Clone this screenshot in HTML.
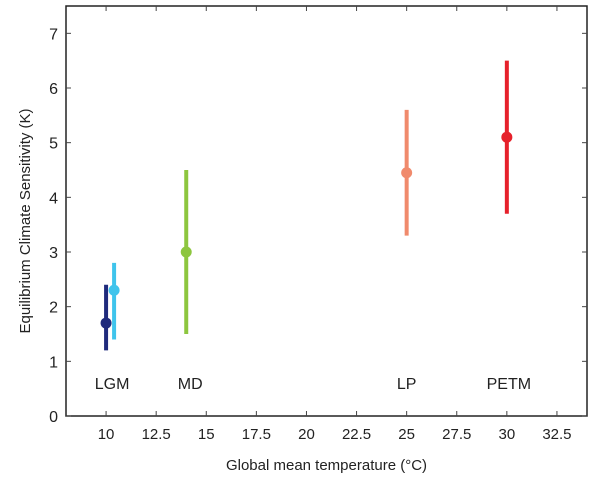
<!DOCTYPE html>
<html><head><meta charset="utf-8"><style>
body{margin:0;background:#fff;}
svg{display:block;font-family:"Liberation Sans",sans-serif;}
</style></head><body>
<svg id="chart" width="600" height="480" viewBox="0 0 600 480"></svg>
<script>
const periods=["LGM","LGM-b","MD","LP","PETM"];
const temps=[10,10.4,14,25,30];
const ecs=[1.7,2.3,3,4.45,5.1];
const lows=[1.2,1.4,1.5,3.3,3.7];
const highs=[2.4,2.8,4.5,5.6,6.5];
const colors=["#1f2a7c","#3fc4ec","#8dc63f","#f08a6c","#e6212b"];
const xTicks=[10,12.5,15,17.5,20,22.5,25,27.5,30,32.5];
const xTickLabels=["10","12.5","15","17.5","20","22.5","25","27.5","30","32.5"];
const yTicks=[0,1,2,3,4,5,6,7];
const labelNames=["LGM","MD","LP","PETM"];
const labelX=[10.3,14.2,25,30.1];
const labelY=[0.6,0.6,0.6,0.6];

const L=66,R=587,T=6,B=416,xMin=8,xMax=34,yMin=0,yMax=7.5;
const x=v=>L+(v-xMin)/(xMax-xMin)*(R-L);
const y=v=>B-(v-yMin)/(yMax-yMin)*(B-T);
const svg=document.getElementById('chart');
const NS="http://www.w3.org/2000/svg";
function mk(t,a,p){const e=document.createElementNS(NS,t);for(const k in a)e.setAttribute(k,a[k]);(p||svg).appendChild(e);return e;}

const frame=mk('rect',{x:L,y:T,width:R-L,height:B-T,fill:'none',stroke:'#222','stroke-width':1.5});



xTicks.forEach((v,i)=>{
  const t1=mk('line',{x1:x(v),x2:x(v),y1:B,y2:B-5,stroke:'#444'});
  
  
  const t2=mk('line',{x1:x(v),x2:x(v),y1:T,y2:T+5,stroke:'#444'});
  
  
  const tx=mk('text',{x:x(v),y:B+23,'text-anchor':'middle','font-size':15,fill:'#222'});
  tx.textContent=xTickLabels[i];
  
  
});
yTicks.forEach(v=>{
  const t1=mk('line',{x1:L,x2:L+5,y1:y(v),y2:y(v),stroke:'#444'});
  
  
  const t2=mk('line',{x1:R,x2:R-5,y1:y(v),y2:y(v),stroke:'#444'});
  
  
  const tx=mk('text',{x:L-8,y:y(v)+6,'text-anchor':'end','font-size':16,fill:'#222'});
  tx.textContent=v;
  
  
});

periods.forEach((p,i)=>{
  const ln=mk('line',{x1:x(temps[i]),x2:x(temps[i]),y1:y(lows[i]),y2:y(highs[i]),stroke:colors[i],'stroke-width':4});
  
  
  const c=mk('circle',{cx:x(temps[i]),cy:y(ecs[i]),r:5.5,fill:colors[i]});
  
  
});

labelNames.forEach((n,i)=>{
  const t=mk('text',{x:x(labelX[i]),y:y(labelY[i])+6,'text-anchor':'middle','font-size':16,fill:'#222'});
  t.textContent=n;
  
  
});

const xt=mk('text',{x:(L+R)/2,y:470,'text-anchor':'middle','font-size':15,fill:'#222'});
xt.textContent="Global mean temperature (°C)";


const yt=mk('text',{x:0,y:0,'text-anchor':'middle','font-size':15,fill:'#222',transform:'translate(30,'+((T+B)/2+10)+') rotate(-90)'});
yt.textContent="Equilibrium Climate Sensitivity (K)";


</script>
</body></html>
